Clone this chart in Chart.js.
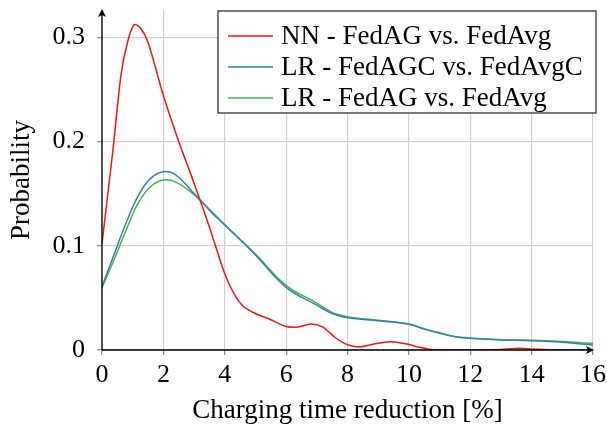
<!DOCTYPE html>
<html>
<head>
<meta charset="utf-8">
<script src="https://cdn.jsdelivr.net/npm/chart.js@4.4.1/dist/chart.umd.min.js"></script>
<style>
  html, body { margin: 0; padding: 0; background: #fff; }
  #wrap { width: 607px; height: 427px; position: relative; }
</style>
</head>
<body>
<div id="wrap"><canvas id="chartCanvas"></canvas></div>
<script>
// datos
const seriesNames = ['NN - FedAG vs. FedAvg', 'LR - FedAGC vs. FedAvgC', 'LR - FedAG vs. FedAvg'];
const seriesColors = ['#e41a1c', '#377eb8', '#4daf4a'];

const xNN = [0, 0.35, 0.62, 0.84, 1.05, 1.25, 1.5, 2.0, 2.5, 3.0, 3.5, 4.0, 4.3, 4.6, 5.0, 5.5, 6.0, 6.4, 6.8, 7.2, 7.6, 8.0, 8.4, 8.9, 9.4, 9.9, 10.3, 10.8, 11.5, 12.5, 13.0, 13.6, 14.2, 15.0, 16.0];
const yNN = [0.102, 0.19, 0.264, 0.296, 0.312, 0.309, 0.295, 0.244, 0.2, 0.16, 0.118, 0.073, 0.054, 0.042, 0.035, 0.029, 0.0225, 0.022, 0.025, 0.022, 0.012, 0.005, 0.003, 0.006, 0.008, 0.006, 0.003, 0.0003, 0, 0, 0.0005, 0.0016, 0.0006, 0, 0];

const xLR = [0, 0.4, 0.8, 1.2, 1.6, 2, 2.4, 3, 3.6, 4, 5, 6, 7, 7.5, 8, 9, 10, 10.5, 11, 11.5, 12, 13, 14, 15, 16];
const yLRC = [0.061, 0.092, 0.123, 0.149, 0.165, 0.171, 0.168, 0.150, 0.131, 0.120, 0.091, 0.060, 0.043, 0.035, 0.031, 0.028, 0.0247, 0.020, 0.016, 0.0128, 0.0112, 0.0097, 0.0089, 0.0074, 0.0048];
const yLR = [0.060, 0.087, 0.116, 0.142, 0.157, 0.163, 0.161, 0.149, 0.132, 0.120, 0.092, 0.062, 0.045, 0.036, 0.032, 0.0285, 0.025, 0.0205, 0.0165, 0.013, 0.0115, 0.0099, 0.0093, 0.0081, 0.0064];

const xTicks = [0, 2, 4, 6, 8, 10, 12, 14, 16];
const yTicks = [0, 0.1, 0.2, 0.3];

const FONT = 'Liberation Serif';

function toPoints(xs, ys) {
  return xs.map((x, i) => ({ x: x, y: ys[i] }));
}

// ejes con flechas
const arrowAxes = {
  id: 'arrowAxes',
  afterDatasetsDraw(chart) {
    const { ctx, chartArea: a } = chart;
    ctx.save();
    ctx.strokeStyle = '#000';
    ctx.fillStyle = '#000';
    ctx.lineWidth = 1.3;
    ctx.beginPath();
    ctx.moveTo(a.left, a.bottom);
    ctx.lineTo(a.left, a.top + 2);
    ctx.moveTo(a.left, a.bottom);
    ctx.lineTo(a.right - 2, a.bottom);
    ctx.stroke();
    // punta arriba
    ctx.beginPath();
    ctx.moveTo(a.left, a.top - 1);
    ctx.lineTo(a.left - 4, a.top + 7);
    ctx.lineTo(a.left, a.top + 5);
    ctx.lineTo(a.left + 4, a.top + 7);
    ctx.closePath();
    ctx.fill();
    // punta derecha
    ctx.beginPath();
    ctx.moveTo(a.right + 1, a.bottom);
    ctx.lineTo(a.right - 7, a.bottom - 4);
    ctx.lineTo(a.right - 5, a.bottom);
    ctx.lineTo(a.right - 7, a.bottom + 4);
    ctx.closePath();
    ctx.fill();
    ctx.restore();
  }
};

// leyenda con recuadro
const boxLegend = {
  id: 'boxLegend',
  afterDraw(chart) {
    const ctx = chart.ctx;
    const x0 = 218, y0 = 11, w = 378, h = 102;
    ctx.save();
    ctx.fillStyle = '#fff';
    ctx.fillRect(x0, y0, w, h);
    ctx.strokeStyle = '#333';
    ctx.lineWidth = 1.3;
    ctx.strokeRect(x0, y0, w, h);
    ctx.font = '27px "' + FONT + '"';
    ctx.textBaseline = 'middle';
    ctx.fillStyle = '#000';
    chart.data.datasets.forEach((ds, i) => {
      const cy = y0 + 25 + i * 31;
      ctx.strokeStyle = ds.borderColor;
      ctx.lineWidth = 1.5;
      ctx.beginPath();
      ctx.moveTo(x0 + 10, cy);
      ctx.lineTo(x0 + 55, cy);
      ctx.stroke();
      ctx.fillText(ds.label, x0 + 63, cy + 1);
    });
    ctx.restore();
  }
};

const datasets = [
  { label: seriesNames[0], data: toPoints(xNN, yNN), borderColor: seriesColors[0], tension: 0.25 },
  { label: seriesNames[1], data: toPoints(xLR, yLRC), borderColor: seriesColors[1], tension: 0.4 },
  { label: seriesNames[2], data: toPoints(xLR, yLR), borderColor: seriesColors[2], tension: 0.4 }
].map(d => Object.assign(d, {
  borderWidth: 1.5,
  pointRadius: 0,
  fill: false
}));

const ctx = document.getElementById('chartCanvas').getContext('2d');
new Chart(ctx, {
  type: 'line',
  data: { datasets: datasets },
  options: {
    responsive: true,
    maintainAspectRatio: false,
    animation: false,
    layout: { padding: { top: 10, right: 14, left: 0, bottom: 0 } },
    plugins: {
      legend: { display: false },
      tooltip: { enabled: false }
    },
    scales: {
      x: {
        type: 'linear',
        min: 0,
        max: 16,
        afterBuildTicks: s => { s.ticks = xTicks.map(v => ({ value: v })); },
        afterFit: s => { s.height = 77; s.paddingLeft = 0; s.paddingRight = 0; },
        border: { display: false },
        grid: { color: '#d2d2d2', lineWidth: 1.2, tickColor: '#8a8a8a', tickLength: 5 },
        ticks: { color: '#000', font: { family: FONT, size: 26 }, padding: 5, maxRotation: 0, callback: v => String(v) },
        title: { display: true, text: 'Charging time reduction [%]', color: '#000', font: { family: FONT, size: 27 }, padding: { top: 0, bottom: 0 } }
      },
      y: {
        min: 0,
        max: 0.326,
        afterBuildTicks: s => { s.ticks = yTicks.map(v => ({ value: v })); },
        afterFit: s => { s.width = 102; s.paddingTop = 0; s.paddingBottom = 0; },
        border: { display: false },
        grid: { color: '#d2d2d2', lineWidth: 1.2, tickColor: '#8a8a8a', tickLength: 5 },
        ticks: { color: '#000', font: { family: FONT, size: 26 }, padding: 12, callback: v => String(Math.round(v * 10) / 10) },
        title: { display: true, text: 'Probability', color: '#000', font: { family: FONT, size: 27 }, padding: { top: 6, bottom: 0 } }
      }
    }
  },
  plugins: [arrowAxes, boxLegend]
});
</script>
</body>
</html>
